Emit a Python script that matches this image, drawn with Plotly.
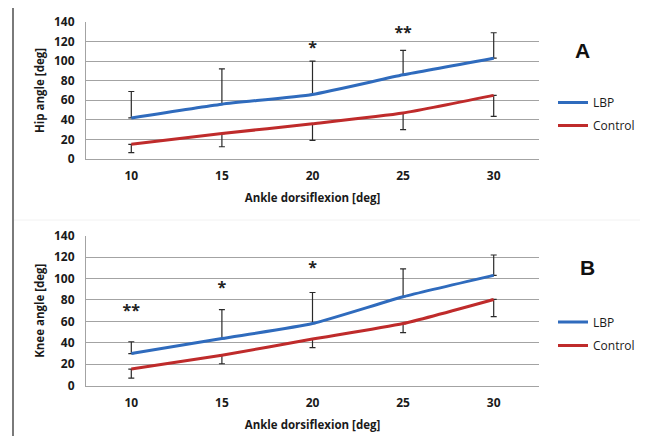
import plotly.graph_objects as go

ankle = [10, 15, 20, 25, 30]
y_ticks = [0, 20, 40, 60, 80, 100, 120, 140]

# Panel A: hip angle
hip_lbp = [42, 56, 66, 86, 103]
hip_lbp_sd = [27, 36, 34, 25, 26]
hip_ctrl = [15, 26, 36, 47, 65]
hip_ctrl_sd = [8.5, 13.5, 17, 17, 21.5]
hip_star_x = [20, 25]
hip_star_y = [112, 128]
hip_star_text = ["*", "**"]

# Panel B: knee angle
knee_lbp = [30, 44, 58, 83, 103]
knee_lbp_sd = [11, 27, 29, 26, 19]
knee_ctrl = [15.5, 28.5, 43.5, 58, 80.5]
knee_ctrl_sd = [8.5, 8, 8, 8.5, 16]
knee_star_x = [10, 15, 20]
knee_star_y = [69, 90, 109]
knee_star_text = ["**", "*", "*"]

BLUE = "#2f6bbd"
RED = "#bf2b2b"
ERR = "#2a2a2a"
GRID = "#a3a3a3"
FONT = "Open Sans"

# the page body has an 8px default margin; lay out in window pixels
OFF = 8
W, H = 648 - OFF, 436 - OFF


def px_x(p):
    return (p - OFF) / W


def px_y(p):
    return 1 - (p - OFF) / H


fig = go.Figure()


def add_panel(suffix, lbp, lbp_sd, ctrl, ctrl_sd, sx, sy, st, leg_a, leg_b):
    xa = "x" if suffix == "" else "x" + suffix
    ya = "y" if suffix == "" else "y" + suffix
    fig.add_trace(go.Scatter(
        x=ankle, y=lbp, name="LBP", mode="lines", xaxis=xa, yaxis=ya,
        line=dict(color=BLUE, width=3, shape="spline", smoothing=0.5),
        error_y=dict(type="data", array=lbp_sd, arrayminus=[0] * len(lbp_sd),
                     symmetric=False, color=ERR, thickness=1.2, width=3),
        legend=leg_a,
    ))
    fig.add_trace(go.Scatter(
        x=ankle, y=ctrl, name="Control", mode="lines", xaxis=xa, yaxis=ya,
        line=dict(color=RED, width=3, shape="spline", smoothing=0.5),
        error_y=dict(type="data", array=[0] * len(ctrl_sd), arrayminus=ctrl_sd,
                     symmetric=False, color=ERR, thickness=1.2, width=3),
        legend=leg_b,
    ))
    fig.add_trace(go.Scatter(
        x=sx, y=sy, text=st, mode="text", xaxis=xa, yaxis=ya, showlegend=False,
        textfont=dict(family=FONT, size=16, color="#222", weight="bold"),
        hoverinfo="skip",
    ))


add_panel("", hip_lbp, hip_lbp_sd, hip_ctrl, hip_ctrl_sd,
          hip_star_x, hip_star_y, hip_star_text, "legend", "legend2")
add_panel("2", knee_lbp, knee_lbp_sd, knee_ctrl, knee_ctrl_sd,
          knee_star_x, knee_star_y, knee_star_text, "legend3", "legend4")

tickfont = dict(family=FONT, size=12, color="#1a1a1a", weight="bold")
titlefont = dict(family=FONT, size=11.5, color="#1a1a1a", weight="bold")

xdom = [px_x(86), px_x(539)]
common_x = dict(range=[7.5, 32.5], tickvals=ankle, showgrid=False, zeroline=False,
                showline=True, linecolor=GRID, linewidth=1, ticks="",
                tickfont=tickfont, title_font=titlefont, title_standoff=10,
                ticklabelstandoff=6, automargin=False, fixedrange=True)
common_y = dict(range=[0, 140], tickvals=y_ticks, showgrid=True, gridcolor=GRID,
                gridwidth=1, zeroline=False, showline=True, linecolor=GRID,
                linewidth=1, ticks="", tickfont=tickfont, title_font=titlefont,
                title_standoff=6, ticklabelstandoff=8, automargin=False,
                fixedrange=True)

leg_common = dict(font=dict(family=FONT, size=12, color="#1a1a1a"),
                  bgcolor="rgba(0,0,0,0)", xanchor="left", yanchor="middle",
                  itemwidth=30, tracegroupgap=0)

fig.update_layout(
    width=W, height=H, margin=dict(l=0, r=0, t=0, b=0, autoexpand=False),
    paper_bgcolor="white", plot_bgcolor="white",
    xaxis=dict(domain=xdom, anchor="y", title_text="Ankle dorsiflexion [deg]", **common_x),
    yaxis=dict(domain=[px_y(159), px_y(22)], anchor="x", title_text="Hip angle [deg]", **common_y),
    xaxis2=dict(domain=xdom, anchor="y2", title_text="Ankle dorsiflexion [deg]", **common_x),
    yaxis2=dict(domain=[px_y(385.7), px_y(235.7)], anchor="x2", title_text="Knee angle [deg]", **common_y),
    legend=dict(x=px_x(553), y=px_y(102.5), **leg_common),
    legend2=dict(x=px_x(553), y=px_y(125.5), **leg_common),
    legend3=dict(x=px_x(553), y=px_y(322), **leg_common),
    legend4=dict(x=px_x(553), y=px_y(345.5), **leg_common),
    showlegend=True,
)

LABEL_FONT = dict(family="Liberation Sans", size=21, color="#111", weight="bold")
fig.add_annotation(text="A", x=px_x(582), y=px_y(51), xref="paper", yref="paper",
                   xanchor="center", yanchor="middle", showarrow=False, font=LABEL_FONT)
fig.add_annotation(text="B", x=px_x(587), y=px_y(267), xref="paper", yref="paper",
                   xanchor="center", yanchor="middle", showarrow=False, font=LABEL_FONT)

# outer frame
FRAME = dict(color="#7a7a7a", width=2)
fig.add_shape(type="line", xref="paper", yref="paper", x0=px_x(13), x1=px_x(13),
              y0=0, y1=px_y(7), line=FRAME)
fig.add_shape(type="line", xref="paper", yref="paper", x0=px_x(13), x1=px_x(645),
              y0=px_y(7), y1=px_y(7), line=FRAME)
fig.add_shape(type="line", xref="paper", yref="paper", x0=px_x(645), x1=px_x(645),
              y0=0, y1=px_y(7), line=FRAME)
fig.add_shape(type="line", xref="paper", yref="paper", x0=px_x(14), x1=px_x(644),
              y0=px_y(220), y1=px_y(220), line=dict(color="#f2f2f2", width=1))

fig.write_html("out.html")
